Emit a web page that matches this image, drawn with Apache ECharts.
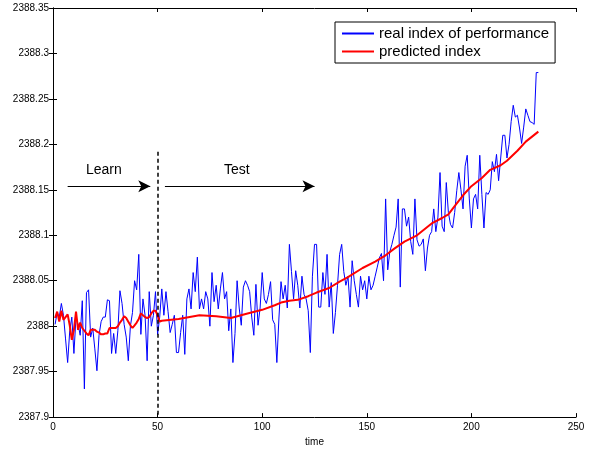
<!DOCTYPE html>
<html>
<head>
<meta charset="utf-8">
<script src="https://cdn.jsdelivr.net/npm/echarts@6/dist/echarts.min.js"></script>
<style>html,body{margin:0;padding:0;background:#fff}#c{width:600px;height:452px}</style>
</head>
<body>
<div id="c"></div>
<script>
// real index of performance, one value per time step starting at time = 1
const realValues = [
2388.002,2388.015,2388.010,2388.025,2388.012,2387.986,2387.960,2387.995,2388.010,2387.970,
2388.010,2388.002,2387.990,2388.028,2387.931,2388.037,2388.040,2387.988,2387.998,2387.975,
2387.951,2387.990,2388.005,2388.010,2388.010,2388.029,2388.028,2387.970,2387.992,2387.970,
2387.995,2388.039,2388.025,2388.002,2387.988,2387.962,2388.000,2388.015,2388.050,2388.040,
2388.079,2387.991,2388.030,2388.012,2387.962,2388.038,2388.000,2388.012,2388.038,2387.991,
2388.010,2388.041,2388.012,2388.038,2388.016,2387.993,2388.002,2388.012,2387.971,2387.971,
2387.993,2388.012,2387.969,2388.030,2388.041,2388.019,2388.059,2388.038,2388.076,2388.019,
2388.030,2388.019,2388.038,2388.030,2388.000,2388.059,2388.027,2388.045,2388.019,2388.041,
2388.059,2388.030,2388.038,2387.995,2388.019,2387.960,2387.992,2388.050,2388.020,2388.001,
2388.043,2388.050,2388.045,2388.038,2388.010,2387.990,2388.046,2388.001,2388.020,2388.059,
2388.030,2388.025,2388.035,2388.049,2388.007,2388.002,2387.960,2388.009,2388.049,2388.030,
2388.045,2388.020,2388.090,2388.060,2388.030,2388.061,2388.045,2388.020,2388.055,2388.035,
2388.030,2388.017,2387.971,2388.055,2388.090,2388.090,2388.021,2388.021,2388.059,2388.035,
2388.079,2388.021,2388.048,2387.992,2388.015,2388.045,2388.079,2388.090,2388.060,2388.045,
2388.055,2388.021,2388.072,2388.050,2388.035,2388.021,2388.055,2388.040,2388.050,2388.030,
2388.055,2388.040,2388.045,2388.055,2388.065,2388.075,2388.080,2388.050,2388.140,2388.062,
2388.082,2388.090,2388.100,2388.109,2388.140,2388.043,2388.129,2388.129,2388.110,2388.120,
2388.093,2388.079,2388.140,2388.095,2388.088,2388.090,2388.096,2388.061,2388.086,2388.100,
2388.104,2388.129,2388.104,2388.120,2388.169,2388.110,2388.104,2388.158,2388.125,2388.112,
2388.108,2388.125,2388.149,2388.169,2388.150,2388.129,2388.176,2388.188,2388.140,2388.108,
2388.140,2388.145,2388.129,2388.188,2388.145,2388.108,2388.147,2388.145,2388.150,2388.181,
2388.170,2388.189,2388.160,2388.185,2388.210,2388.210,2388.185,2388.200,2388.225,2388.243,
2388.230,2388.232,2388.218,2388.201,2388.219,2388.239,2388.232,2388.225,2388.224,2388.222,
2388.279,2388.279
];
// predicted index: times and values
const predTimes = [
1,2,3,4,5,6,7,8,9,10,11,12,13,14,15,16,17,18,19,20,21,22,23,24,25,26,27,28,29,30,
31,32,33,34,35,36,37,38,39,40,41,42,43,44,45,46,47,48,49,50,51,
52,60,70,78,85,93,100,106,109,113,117,122,126,132,137,141,148,154,159,163,168,
174,181,186,189,192,196,200,205,209,214,217,222,226,232
];
const predValues = [
2388.009,2388.016,2388.005,2388.017,2388.007,2388.010,2388.013,2388.001,2387.985,2387.996,
2388.016,2387.996,2388.004,2387.998,2387.995,2387.992,2387.990,2387.996,2387.996,2387.996,
2387.994,2387.993,2387.991,2387.991,2387.992,2387.992,2387.998,2387.998,2387.998,2387.998,
2388.000,2388.004,2388.007,2388.011,2388.009,2388.005,2388.001,2387.998,2388.001,2388.004,
2388.008,2388.014,2388.012,2388.010,2388.009,2388.010,2388.014,2388.017,2388.017,2388.012,
2388.005,
2388.006,2388.008,2388.012,2388.011,2388.009,2388.014,2388.018,2388.023,2388.026,2388.028,
2388.029,2388.033,2388.037,2388.042,2388.049,2388.054,2388.064,2388.071,2388.078,2388.085,
2388.093,2388.100,2388.113,2388.119,2388.123,2388.132,2388.144,2388.154,2388.163,2388.172,
2388.177,2388.182,2388.193,2388.203,2388.214
];
const xTicks = {min: 0, max: 250, interval: 50};
const yTicks = {min: 2387.9, max: 2388.35, interval: 0.05};
const splitTime = 50;
const splitTop = 2388.192;
const arrowLevel = 2388.154;
const learnArrow = [7, 46.5];
const testArrow = [53.5, 125];
const seriesNames = ['real index of performance', 'predicted index'];

const font = 'Liberation Sans, Arial, sans-serif';
const realData = realValues.map((v, i) => [i + 1, v]);
const predData = predTimes.map((t, i) => [t, predValues[i]]);
const yFmt = v => String(parseFloat(Number(v).toFixed(2)));

const chart = echarts.init(document.getElementById('c'), null, {renderer: 'canvas'});
const axisLine = {show: true, lineStyle: {color: '#000', width: 1}};
const tick = {show: true, inside: true, length: 4, lineStyle: {color: '#000', width: 1}};
chart.setOption({
  animation: false,
  backgroundColor: '#fff',
  grid: {left: 53, right: 24, top: 8, bottom: 27, containLabel: false},
  legend: {
    data: seriesNames,
    orient: 'vertical',
    left: 335, top: 22,
    itemWidth: 32, itemHeight: 14, itemGap: 3,
    padding: [4, 6, 4, 6],
    borderColor: '#000', borderWidth: 1, backgroundColor: '#fff',
    itemStyle: {opacity: 0},
    textStyle: {fontFamily: font, fontSize: 15, color: '#000', lineHeight: 14}
  },
  xAxis: [
    {type: 'value', min: xTicks.min, max: xTicks.max, interval: xTicks.interval, position: 'bottom',
     axisLine, axisTick: tick, splitLine: {show: false},
     axisLabel: {fontFamily: font, fontSize: 10, color: '#000', margin: 5},
     name: 'time', nameLocation: 'middle', nameGap: 18,
     nameTextStyle: {fontFamily: font, fontSize: 10, color: '#000'}},
    {type: 'value', min: xTicks.min, max: xTicks.max, interval: xTicks.interval, position: 'top',
     axisLine, axisTick: tick, splitLine: {show: false}, axisLabel: {show: false}}
  ],
  yAxis: [
    {type: 'value', min: yTicks.min, max: yTicks.max, interval: yTicks.interval, position: 'left',
     axisLine, axisTick: tick, splitLine: {show: false},
     axisLabel: {fontFamily: font, fontSize: 10, color: '#000', margin: 4, formatter: yFmt}},
    {type: 'value', min: yTicks.min, max: yTicks.max, interval: yTicks.interval, position: 'right',
     axisLine, axisTick: tick, splitLine: {show: false}, axisLabel: {show: false}}
  ],
  series: [
    {name: seriesNames[0], type: 'line', data: realData, symbol: 'none',
     lineStyle: {color: '#0000ff', width: 1}, itemStyle: {color: '#0000ff'}, z: 2,
     markLine: {
       silent: true, symbol: ['none', 'none'], label: {show: false},
       lineStyle: {color: '#000', width: 1.5, type: [4, 3]},
       data: [[{coord: [splitTime, splitTop]}, {coord: [splitTime, yTicks.min]}]]
     }},
    {name: seriesNames[1], type: 'line', data: predData, symbol: 'none',
     lineStyle: {color: '#ff0000', width: 2}, itemStyle: {color: '#ff0000'}, z: 3,
     markLine: {
       silent: true, symbol: ['none', 'arrow'], symbolSize: [9, 12], label: {show: false},
       lineStyle: {color: '#000', width: 1, type: 'solid'},
       data: [
         [{coord: [learnArrow[0], arrowLevel]}, {coord: [learnArrow[1], arrowLevel]}],
         [{coord: [testArrow[0], arrowLevel]}, {coord: [testArrow[1], arrowLevel]}]
       ]
     }}
  ],
  graphic: [
    {type: 'text', left: 86, top: 163, style: {text: 'Learn', fontFamily: font, fontSize: 14, fill: '#000'}},
    {type: 'text', left: 224, top: 163, style: {text: 'Test', fontFamily: font, fontSize: 14, fill: '#000'}}
  ]
});
</script>
</body>
</html>
